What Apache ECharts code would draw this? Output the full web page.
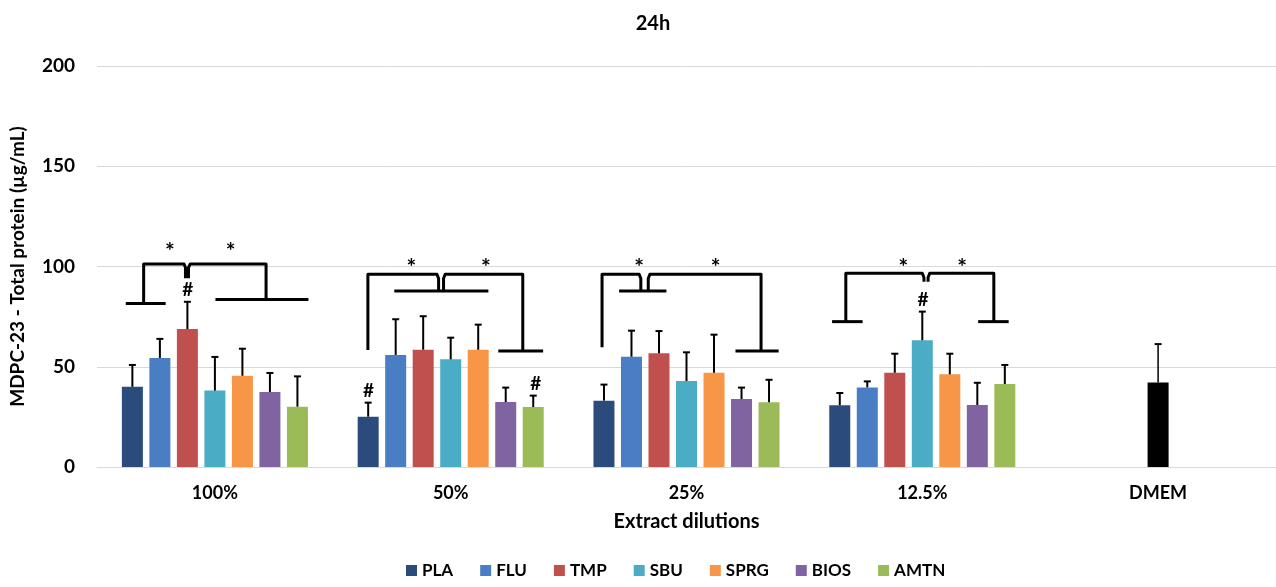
<!DOCTYPE html>
<html>
<head>
<meta charset="utf-8">
<script src="https://cdn.jsdelivr.net/npm/echarts@6/dist/echarts.min.js"></script>
<style>
html,body{margin:0;padding:0;background:#fff;}
#chart{width:1276px;height:587px;}
</style>
</head>
<body>
<div id="chart"></div>
<script>
// ---- data ----
const categories = ['100%', '50%', '25%', '12.5%', 'DMEM'];
const seriesNames = ['PLA', 'FLU', 'TMP', 'SBU', 'SPRG', 'BIOS', 'AMTN'];
const yTicks = [0, 50, 100, 150, 200];

const PLA  = [40.0, 25.1, 33.1, 30.8, null];
const FLU  = [54.4, 55.9, 55.0, 39.7, null];
const TMP  = [68.8, 58.5, 56.7, 47.0, null];
const SBU  = [38.1, 53.7, 42.9, 63.2, null];
const SPRG = [45.5, 58.5, 47.0, 46.2, null];
const BIOS = [37.4, 32.4, 33.9, 30.9, null];
const AMTN = [30.1, 29.9, 32.3, 41.4, null];

const PLA_err  = [10.9, 7.0, 8.0, 6.1];
const FLU_err  = [9.5, 17.8, 13.0, 3.0];
const TMP_err  = [13.6, 16.7, 11.1, 9.5];
const SBU_err  = [16.8, 10.8, 14.3, 14.3];
const SPRG_err = [13.5, 12.5, 19.0, 10.3];
const BIOS_err = [9.5, 7.2, 5.7, 11.1];
const AMTN_err = [15.1, 5.7, 11.2, 9.5];

const DMEM = [null, null, null, null, 42.2];
const DMEM_err = [null, null, null, null, 19.1];

// significance brackets: [category index, [[bar slot offset, value], ...]]
const brackets = [
  [0, [[-3.24, 81.6], [-1.79, 81.6]]],
  [0, [[-2.59, 81.6], [-2.59, 101.2], [-1.12, 101.2], [-1.07, 99.5], [-1.07, 94.2]]],
  [0, [[-0.96, 94.2], [-0.96, 99.5], [-0.9, 101.2], [1.86, 101.2], [1.86, 83.6]]],
  [0, [[0.02, 83.6], [3.4, 83.6]]],
  [1, [[-3.01, 58.4], [-3.01, 96.1], [-0.5, 96.1], [-0.44, 94], [-0.44, 87.8]]],
  [1, [[-2.05, 87.8], [1.37, 87.8]]],
  [1, [[-0.26, 87.8], [-0.26, 94], [-0.2, 96.1], [2.62, 96.1], [2.62, 57.9]]],
  [1, [[1.73, 57.9], [3.36, 57.9]]],
  [2, [[-3.07, 59.7], [-3.07, 96.1], [-1.72, 96.1], [-1.66, 94], [-1.66, 87.8]]],
  [2, [[-2.45, 87.8], [-0.73, 87.8]]],
  [2, [[-1.39, 87.8], [-1.39, 94], [-1.33, 96.1], [2.71, 96.1], [2.71, 57.9]]],
  [2, [[1.78, 57.9], [3.35, 57.9]]],
  [3, [[-3.28, 72.5], [-2.17, 72.5]]],
  [3, [[-2.78, 72.5], [-2.78, 96.6], [0.0, 96.6], [0.06, 94.5], [0.06, 92.4]]],
  [3, [[0.21, 92.4], [0.21, 94.5], [0.27, 96.6], [2.6, 96.6], [2.6, 72.5]]],
  [3, [[2.03, 72.5], [3.14, 72.5]]]
];
// significance marks: [category index, bar slot offset, value, text]
const marks = [
  [0, -1.64, 109.7, '*'], [0, 0.57, 110.0, '*'],
  [1, -1.43, 102.1, '*'], [1, 1.28, 102.1, '*'],
  [2, -1.72, 102.1, '*'], [2, 1.06, 102.1, '*'],
  [3, -0.69, 102.1, '*'], [3, 1.45, 102.1, '*'],
  [0, -0.99, 88.3, '#'], [1, -2.99, 38.0, '#'], [1, 3.09, 41.4, '#'], [3, 0.03, 83.3, '#']
];

// ---- styling ----
const colors = ['#2A4B7C', '#4A7EC4', '#C0504D', '#4BACC6', '#F79646', '#8064A2', '#9BBB59'];
const FONT = 'Lato, "Open Sans", sans-serif';
const BAR_W = 21;
const BAR_GAP = 0.31;
const PITCH = BAR_W * (1 + BAR_GAP);

const values = [PLA, FLU, TMP, SBU, SPRG, BIOS, AMTN];
const errs = [PLA_err, FLU_err, TMP_err, SBU_err, SPRG_err, BIOS_err, AMTN_err];

const errData = [];
values.forEach((arr, s) => {
  arr.forEach((v, c) => {
    if (v != null) errData.push([c, v, errs[s][c], s - 3]);
  });
});
const dmemErr = [];
DMEM.forEach((v, c) => { if (v != null) dmemErr.push([c, v, DMEM_err[c], 0]); });

function errRender(lw) {
  return function (params, api) {
    const c = api.value(0), v = api.value(1), e = api.value(2), slot = api.value(3);
    const p0 = api.coord([c, v]);
    const p1 = api.coord([c, v + e]);
    const x = p0[0] + slot * PITCH;
    return {
      type: 'group',
      children: [
        { type: 'line', shape: { x1: x, y1: p0[1], x2: x, y2: p1[1] }, style: { stroke: '#000', lineWidth: lw } },
        { type: 'line', shape: { x1: x - 3.5, y1: p1[1], x2: x + 3.5, y2: p1[1] }, style: { stroke: '#000', lineWidth: 2 } }
      ]
    };
  };
}

const series = seriesNames.map((name, i) => ({
  name: name,
  type: 'bar',
  data: values[i],
  barWidth: BAR_W,
  barGap: (BAR_GAP * 100) + '%',
  itemStyle: { color: colors[i] },
  z: 2
}));

series.push({
  name: 'DMEM',
  type: 'bar',
  xAxisIndex: 1,
  data: DMEM,
  barWidth: BAR_W,
  itemStyle: { color: '#000' },
  z: 2
});

series.push({
  type: 'custom',
  name: 'err',
  data: errData,
  renderItem: errRender(2),
  z: 3,
  silent: true
});
series.push({
  type: 'custom',
  name: 'errD',
  xAxisIndex: 1,
  data: dmemErr,
  renderItem: errRender(1.5),
  z: 3,
  silent: true
});

series.push({
  type: 'custom',
  name: 'brackets',
  data: brackets.map((b, i) => [b[0], i]),
  renderItem: function (params, api) {
    const b = brackets[params.dataIndex];
    const c = b[0];
    const pts = b[1].map(p => {
      const q = api.coord([c, p[1]]);
      return [q[0] + p[0] * PITCH, q[1]];
    });
    return {
      type: 'polyline',
      shape: { points: pts },
      style: { stroke: '#000', lineWidth: 3, fill: null, lineJoin: 'round' }
    };
  },
  z: 4,
  silent: true
});

series.push({
  type: 'custom',
  name: 'marks',
  data: marks.map((m, i) => [m[0], m[2], i]),
  renderItem: function (params, api) {
    const m = marks[params.dataIndex];
    const q = api.coord([m[0], m[2]]);
    const star = m[3] === '*';
    return {
      type: 'text',
      style: {
        text: m[3],
        x: q[0] + m[1] * PITCH,
        y: q[1] + (star ? 5 : 0),
        textAlign: 'center',
        textVerticalAlign: 'middle',
        font: 'bold ' + (star ? 23 : 19) + 'px ' + FONT,
        fill: '#000'
      }
    };
  },
  z: 5,
  silent: true
});

const chart = echarts.init(document.getElementById('chart'));
chart.setOption({
  animation: false,
  backgroundColor: '#fff',
  title: {
    text: '24h',
    left: 648,
    top: 9,
    textAlign: 'center',
    textStyle: { fontFamily: FONT, fontWeight: 'bold', fontSize: 20, color: '#000' }
  },
  legend: {
    data: seriesNames,
    left: 401,
    bottom: 3,
    itemWidth: 11,
    itemHeight: 11,
    itemGap: 27,
    icon: 'rect',
    textStyle: { fontFamily: FONT, fontWeight: 'bold', fontSize: 17, color: '#000' }
  },
  grid: { left: 97, right: 0, top: 66, bottom: 120 },
  xAxis: [
    {
      type: 'category',
      data: categories,
      name: 'Extract dilutions',
      nameLocation: 'middle',
      nameGap: 45,
      nameTextStyle: { fontFamily: FONT, fontWeight: 'bold', fontSize: 20, color: '#000' },
      axisLine: { show: true, lineStyle: { color: '#d9d9d9', width: 1 } },
      axisTick: { show: false },
      axisLabel: { margin: 17, fontFamily: FONT, fontWeight: 'bold', fontSize: 18, color: '#000' }
    },
    {
      type: 'category',
      data: categories,
      show: false
    }
  ],
  yAxis: {
    type: 'value',
    min: yTicks[0],
    max: yTicks[yTicks.length - 1],
    interval: yTicks[1] - yTicks[0],
    name: 'MDPC-23 - Total protein (µg/mL)',
    nameLocation: 'middle',
    nameGap: 70,
    nameTextStyle: { fontFamily: FONT, fontWeight: 'bold', fontSize: 19, color: '#000' },
    axisLine: { show: false },
    axisTick: { show: false },
    axisLabel: { margin: 22, fontFamily: FONT, fontWeight: 'bold', fontSize: 19, color: '#000' },
    splitLine: { lineStyle: { color: '#d9d9d9', width: 1 } }
  },
  series: series
});
</script>
</body>
</html>
